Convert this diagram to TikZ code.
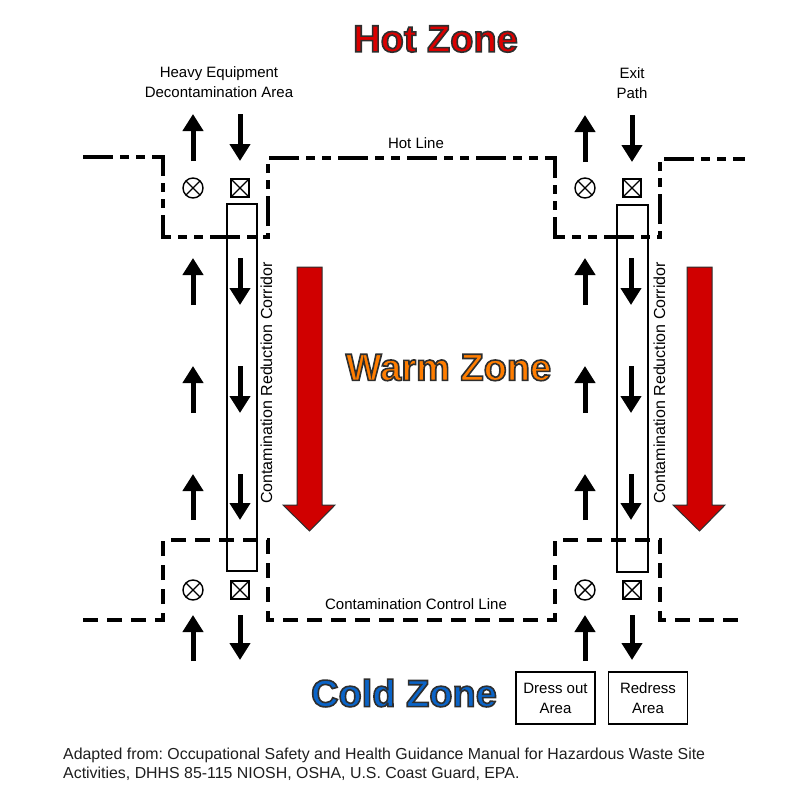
\documentclass[tikz,border=0pt]{standalone}
\usepackage{fontspec}
\setmainfont{Liberation Sans}
\usetikzlibrary{arrows.meta}
\definecolor{hotred}{RGB}{218,0,0}
\definecolor{warmorange}{RGB}{255,125,0}
\definecolor{coldblue}{RGB}{10,100,200}
\definecolor{bigred}{RGB}{208,0,0}
\definecolor{outl}{RGB}{45,45,45}
\definecolor{captext}{RGB}{30,30,30}
\newcommand\outlinedtext[1]{\special{pdf:literal direct 2 Tr 1.6 w 0.18 0.18 0.18 RG}#1\special{pdf:literal direct 0 Tr}}
\tikzset{
  pics/otim/.style={code={
    \draw[line width=1.4pt] (0,0) circle (10);
    \draw[line width=1.4pt] (45:10) -- (225:10) (135:10) -- (-45:10);}},
  pics/boxx/.style={code={
    \draw[line width=1.4pt] (-9,-9) rectangle (9,9);
    \draw[line width=1.4pt] (-9,-9) -- (9,9) (-9,9) -- (9,-9);}}
}
\frenchspacing
\begin{document}
\begin{tikzpicture}[x=1pt,y=-1pt,
  lbl/.style={font=\fontsize{15}{20}\selectfont, align=center, inner sep=0pt},
  zone/.style={font=\fontsize{38}{40}\selectfont\bfseries, inner sep=0pt},
  hotline/.style={line width=4pt, dash pattern=on 30pt off 7pt on 9pt off 7pt on 9pt off 7pt},
  ctrlline/.style={line width=4pt, dash pattern=on 15pt off 9pt},
  corridor/.style={draw, line width=2pt},
  flow/.style={line width=5pt, -{Triangle[width=20pt,length=17pt]}},
  bigarrow/.style={fill=bigred, draw=outl, line width=1pt},
  areabox/.style={draw, line width=1.3pt, minimum width=79pt, minimum height=52pt, font=\fontsize{15}{20}\selectfont, align=center, inner sep=0pt}
]
\useasboundingbox (0,0) rectangle (812,790);

% Zone titles with outline
\node[zone,text=hotred] (hot) at (435.5,39) {\outlinedtext{Hot Zone}};
\node[zone,text=warmorange] (warm) at (448.5,367.5) {\outlinedtext{Warm Zone}};
\node[zone,text=coldblue] (cold) at (404,693) {\outlinedtext{Cold Zone}};

% Labels
\node[lbl] (heavy) at (219,82.5) {Heavy Equipment\\Decontamination Area};
\node[lbl] (exit) at (632,83) {Exit\\Path};
\node[lbl,anchor=base] (hotlbl) at (416,148) {Hot Line};
\node[lbl,anchor=base] (ctrllbl) at (416,609) {Contamination Control Line};
\node[lbl,rotate=90,font=\fontsize{16}{18}\selectfont] (corrL) at (266.5,383) {Contamination Reduction Corridor};
\node[lbl,rotate=90,font=\fontsize{16}{18}\selectfont] (corrR) at (659.5,383) {Contamination Reduction Corridor};

% Hot line (dash-dot)
\draw[hotline] (83,157) -- (163,157) -- (163,237) -- (268,237) -- (268,158) -- (555,158) -- (555,237) -- (660,237) -- (660,159) -- (745,159);
% Contamination control line (dashed)
\draw[ctrlline] (83,620) -- (163,620) -- (163,540) -- (268,540) -- (268,620) -- (555,620) -- (555,540) -- (660,540) -- (660,620) -- (738,620);

% Corridors
\draw[corridor] (227,204) rectangle (257,571);
\draw[corridor] (617,205) rectangle (648,572);

% Symbols
\pic at (193,188) {otim};
\pic at (240,188) {boxx};
\pic at (585,188) {otim};
\pic at (632,188) {boxx};
\pic at (193,590) {otim};
\pic at (240,590) {boxx};
\pic at (585,590) {otim};
\pic at (632,590) {boxx};

% Top arrows
\draw[flow] (193,161) -- (193,114);
\draw[flow] (240,114) -- (240,161);
\draw[flow] (585,162) -- (585,115);
\draw[flow] (632,115) -- (632,162);

% Corridor arrows
\foreach \ya/\yb in {258/305, 366/413, 474/520} {
  \draw[flow] (193,\yb) -- (193,\ya);
  \draw[flow] (240,\ya) -- (240,\yb);
  \draw[flow] (585,\yb) -- (585,\ya);
  \draw[flow] (631,\ya) -- (631,\yb);
}

% Bottom arrows
\draw[flow] (193,661) -- (193,615);
\draw[flow] (240,615) -- (240,660);
\draw[flow] (585,661) -- (585,615);
\draw[flow] (632,615) -- (632,660);

% Big red arrows
\draw[bigarrow] (297,267) -- (322,267) -- (322,505) -- (335,505) -- (309.5,531) -- (283,505) -- (297,505) -- cycle;
\draw[bigarrow] (687,267) -- (712,267) -- (712,505) -- (725,505) -- (699.5,531) -- (673,505) -- (687,505) -- cycle;

% Areas
\node[areabox] (dress) at (555.5,698) {Dress out\\Area};
\node[areabox] (redress) at (648,698) {Redress\\Area};

% Caption
\node[lbl,anchor=base west,text=captext,font=\fontsize{15.9}{19}\selectfont] (cap1) at (63,759) {Adapted from: Occupational Safety and Health Guidance Manual for Hazardous Waste Site};
\node[lbl,anchor=base west,text=captext,font=\fontsize{15.9}{19}\selectfont] (cap2) at (63,778) {Activities, DHHS 85-115 NIOSH, OSHA, U.S. Coast Guard, EPA.};
\end{tikzpicture}
\end{document}
